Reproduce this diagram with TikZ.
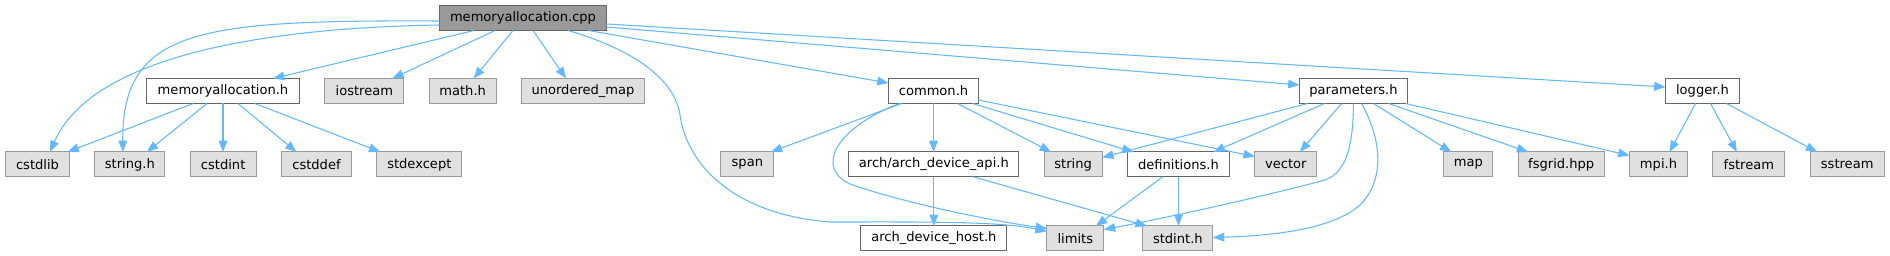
\documentclass[tikz,border=0pt]{standalone}
\usepackage{fontspec}
\setmainfont{DejaVu Sans}
\usetikzlibrary{positioning, arrows.meta, calc}

\definecolor{edgeblue}{HTML}{63B8FF}
\definecolor{sysfill}{HTML}{E0E0E0}
\definecolor{sysdraw}{HTML}{999999}
\definecolor{hdrdraw}{HTML}{666666}
\definecolor{rootfill}{HTML}{999999}

\begin{document}
\begin{tikzpicture}[
    x=0.75pt, y=-0.75pt,
    >={Triangle[length=8.5pt, width=6.5pt]},
    font=\fontsize{9.8}{11}\selectfont,
    node distance=36.75pt and 19pt,
    dep/.style={
        ->,
        draw=edgeblue,
        line width=0.8pt
    },
    boxw/.style={
        minimum width=(#1-1)*0.75pt
    },
    file/.style={
        rectangle,
        draw,
        line width=0.75pt,
        minimum height=18.75pt,
        inner sep=0pt,
        outer sep=0pt,
        text=black
    },
    hdr/.style={
        file,
        fill=white,
        draw=hdrdraw
    },
    sys/.style={
        file,
        fill=sysfill,
        draw=sysdraw
    },
    root/.style={
        file,
        fill=rootfill,
        draw=hdrdraw
    }
]
    \useasboundingbox (0,0) rectangle (1890,256);

    % --- Top ---
    \node[root, boxw=168] (cpp) at (523,18) {memoryallocation.cpp};

    % --- Second row ---
    \node[hdr, boxw=154, anchor=west] (mah) at (146.5,91) {memoryallocation.h};
    \node[sys, boxw=80, right=of mah] (iostream) {iostream};
    \node[sys, boxw=68, right=of iostream] (mathh) {math.h};
    \node[sys, boxw=124, right=of mathh] (umap) {unordered\_map};
    \node[hdr, boxw=91, right=183pt of umap] (common) {common.h};
    \node[hdr, boxw=109, right=240.75pt of common] (params) {parameters.h};
    \node[hdr, boxw=75, right=193.5pt of params] (logger) {logger.h};

    % --- Third row ---
    \node[sys, boxw=65, anchor=west] (cstdlib) at (5.5,164.5) {cstdlib};
    \node[sys, boxw=71, right=of cstdlib] (stringh) {string.h};
    \node[sys, boxw=67, right=of stringh] (cstdint) {cstdint};
    \node[sys, boxw=71, right=of cstdint] (cstddef) {cstddef};
    \node[sys, boxw=86, right=of cstddef] (stdexcept) {stdexcept};
    \node[sys, boxw=54, right=194.25pt of stdexcept] (span) {span};
    \node[hdr, boxw=171, right=56.25pt of span] (api) {arch/arch\_device\_api.h};
    \node[sys, boxw=59, right=of api] (string) {string};
    \node[hdr, boxw=103, right=of string] (defs) {definitions.h};
    \node[sys, boxw=63, right=of defs] (vector) {vector};
    \node[sys, boxw=50, right=95.25pt of vector] (map) {map};
    \node[sys, boxw=87, right=of map] (fsgrid) {fsgrid.hpp};
    \node[sys, boxw=59, right=of fsgrid] (mpi) {mpi.h};
    \node[sys, boxw=73, right=of mpi] (fstream) {fstream};
    \node[sys, boxw=75, right=of fstream] (sstream) {sstream};

    % --- Bottom row ---
    \node[hdr, boxw=147, below=of api] (host) {arch\_device\_host.h};
    \node[sys, boxw=58, right=30pt of host] (limits) {limits};
    \node[sys, boxw=71, right=29.25pt of limits] (stdint) {stdint.h};

    % memoryallocation.cpp
    \draw[dep] ($(cpp.west)+(0,7)$) .. controls (250,28) and (90,60) .. ($(cstdlib.north)+(12.5,0)$);
    \draw[dep] ($(cpp.west)+(0,3)$) .. controls (200,20) and (122,28) .. ($(stringh.north)+(-7,0)$);
    \draw[dep] ($(cpp.south)+(-49,0)$) -- ($(mah.north)+(50,0)$);
    \draw[dep] ($(cpp.south)+(-28,0)$) -- ($(iostream.north)+(28,0)$);
    \draw[dep] ($(cpp.south)+(-10,0)$) -- ($(mathh.north)+(11,0)$);
    \draw[dep] ($(cpp.south)+(10,0)$) -- ($(umap.north)+(-17,0)$);
    \draw[dep] ($(cpp.south)+(45,0)$) .. controls (635,50) and (675,80) .. (680,115)
        .. controls (688,170) and (740,215) .. (830,222)
        .. controls (920,222) and (1000,221) .. ($(limits.west)+(0,-7)$);
    \draw[dep] ($(cpp.south east)+(-18,0)$) -- ($(common.west)+(0,-8)$);
    \draw[dep] ($(cpp.east)+(0,9)$) -- ($(params.west)+(0,-6)$);
    \draw[dep] ($(cpp.east)+(0,6)$) -- ($(logger.west)+(0,-4)$);

    % memoryallocation.h
    \draw[dep] ($(mah.south)+(-30,0)$) -- ($(cstdlib.north east)+(-2,0)$);
    \draw[dep] ($(mah.south)+(-16,0)$) -- ($(stringh.north)+(17,0)$);
    \draw[dep] (mah.south) -- (mah.south |- cstdint.north);
    \draw[dep] ($(mah.south)+(15,0)$) -- ($(cstddef.north)+(-20,0)$);
    \draw[dep] ($(mah.south)+(32,0)$) -- ($(stdexcept.north)+(-39,0)$);

    % common.h
    \draw[dep] ($(common.south)+(-32,0)$) -- ($(span.north east)+(-3,0)$);
    \draw[dep] ($(common.south)+(-34,0)$) .. controls (835,128) and (815,168) .. (850,184)
        .. controls (910,205) and (1000,222) .. ($(limits.west)+(0,-10)$);
    \draw[dep] (common.south) -- (common.south |- api.north);
    \draw[dep] ($(common.south)+(24,0)$) -- ($(string.north)+(-22,0)$);
    \draw[dep] ($(common.south east)+(-6,0)$) -- ($(defs.north)+(-45,0)$);
    \draw[dep] ($(common.east)+(0,9)$) -- ($(vector.west)+(0,-8)$);

    % arch/arch_device_api.h
    \draw[dep] (api.south) -- (api.south |- host.north);
    \draw[dep] ($(api.south)+(40,0)$) -- ($(stdint.north west)+(4,0)$);

    % definitions.h
    \draw[dep] ($(defs.south)+(-16,0)$) -- ($(limits.north east)+(-8,0)$);
    \draw[dep] (defs.south) -- (defs.south |- stdint.north);

    % parameters.h
    \draw[dep] ($(params.south west)+(8,0)$) -- ($(string.east)+(0,-7)$);
    \draw[dep] ($(params.south)+(-29,0)$) -- ($(defs.north)+(35,0)$);
    \draw[dep] ($(params.south)+(-12,0)$) -- ($(vector.north)+(14,0)$);
    \draw[dep] (params.south) .. controls (1353,145) and (1347,172) .. (1325,180)
        .. controls (1250,200) and (1150,221) .. ($(limits.east)+(0,-9)$);
    \draw[dep] ($(params.south)+(8,0)$) .. controls (1382,140) and (1385,180) .. (1360,205)
        .. controls (1330,232) and (1260,236) .. ($(stdint.east)+(0,-1)$);
    \draw[dep] ($(params.south)+(20,0)$) -- ($(map.north)+(-17,0)$);
    \draw[dep] ($(params.south east)+(-19,0)$) -- ($(fsgrid.north)+(-33,0)$);
    \draw[dep] ($(params.south east)+(-2,0)$) -- ($(mpi.west)+(0,-9)$);

    % logger.h
    \draw[dep] ($(logger.south)+(-7,0)$) -- ($(mpi.north)+(11,0)$);
    \draw[dep] ($(logger.south)+(8,0)$) -- ($(fstream.north)+(-12,0)$);
    \draw[dep] ($(logger.south)+(24,0)$) -- ($(sstream.north)+(-30,0)$);

\end{tikzpicture}
\end{document}
